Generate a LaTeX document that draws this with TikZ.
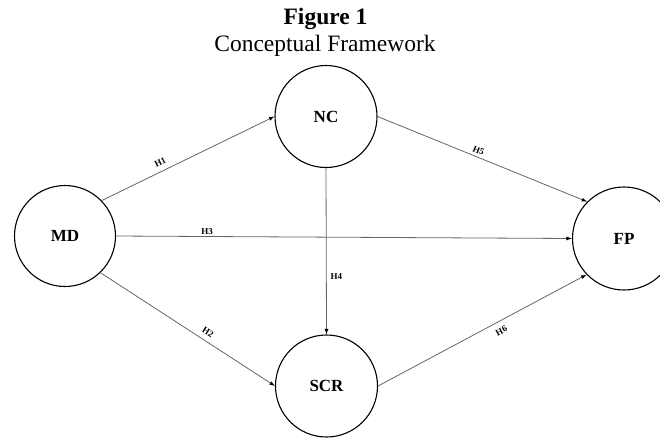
\documentclass[tikz,border=0pt]{standalone}
\usepackage{fontspec}
\setmainfont{Liberation Serif}
\usetikzlibrary{arrows.meta}
\begin{document}
\begin{tikzpicture}[x=1pt,y=-1pt,
  var/.style={circle,draw=black,line width=1.1pt,inner sep=0pt,minimum size=101pt,
    font=\fontsize{17}{17}\selectfont\bfseries},
  link/.style={draw=black!60,line width=0.8pt,-{Latex[length=5.5pt,width=4pt,color=black]}},
  hlab/.style={font=\fontsize{9}{9}\selectfont\bfseries,inner sep=1pt},
  ttl/.style={anchor=base,inner sep=0pt}]
\useasboundingbox (0,0) rectangle (660,437);
\clip (0,0) rectangle (660,437);
\node[ttl,font=\fontsize{23.5}{23.5}\selectfont\bfseries] (t1) at (325.5,24) {Figure 1};
\node[ttl,font=\fontsize{23.5}{23.5}\selectfont] (t2) at (325,51.5) {Conceptual Framework};
\node[var,minimum size=102pt] (NC) at (326,116.5) {NC};
\node[var] (MD) at (65,236) {MD};
\node[var,minimum size=103pt] (FP) at (624,238.5) {FP};
\node[var,minimum size=102pt] (SCR) at (326.5,386) {SCR};
\draw[link] (MD.44) -- node[hlab,sloped,above=4pt,pos=0.36] {H1} (NC.west);
\draw[link] (MD.-46) -- node[hlab,sloped,above=4pt,pos=0.59] {H2} (SCR.west);
\draw[link] (MD.east) -- node[hlab,above=1pt,pos=0.2] {H3} (FP.west);
\draw[link] (NC.south) -- node[hlab,right=3pt,pos=0.65] {H4} (SCR.north);
\draw[link] (NC.east) -- node[hlab,sloped,above=2pt,pos=0.47] {H5} (FP.135);
\draw[link] (SCR.east) -- node[hlab,sloped,below=5pt,pos=0.57] {H6} (FP.-136);
\end{tikzpicture}
\end{document}
